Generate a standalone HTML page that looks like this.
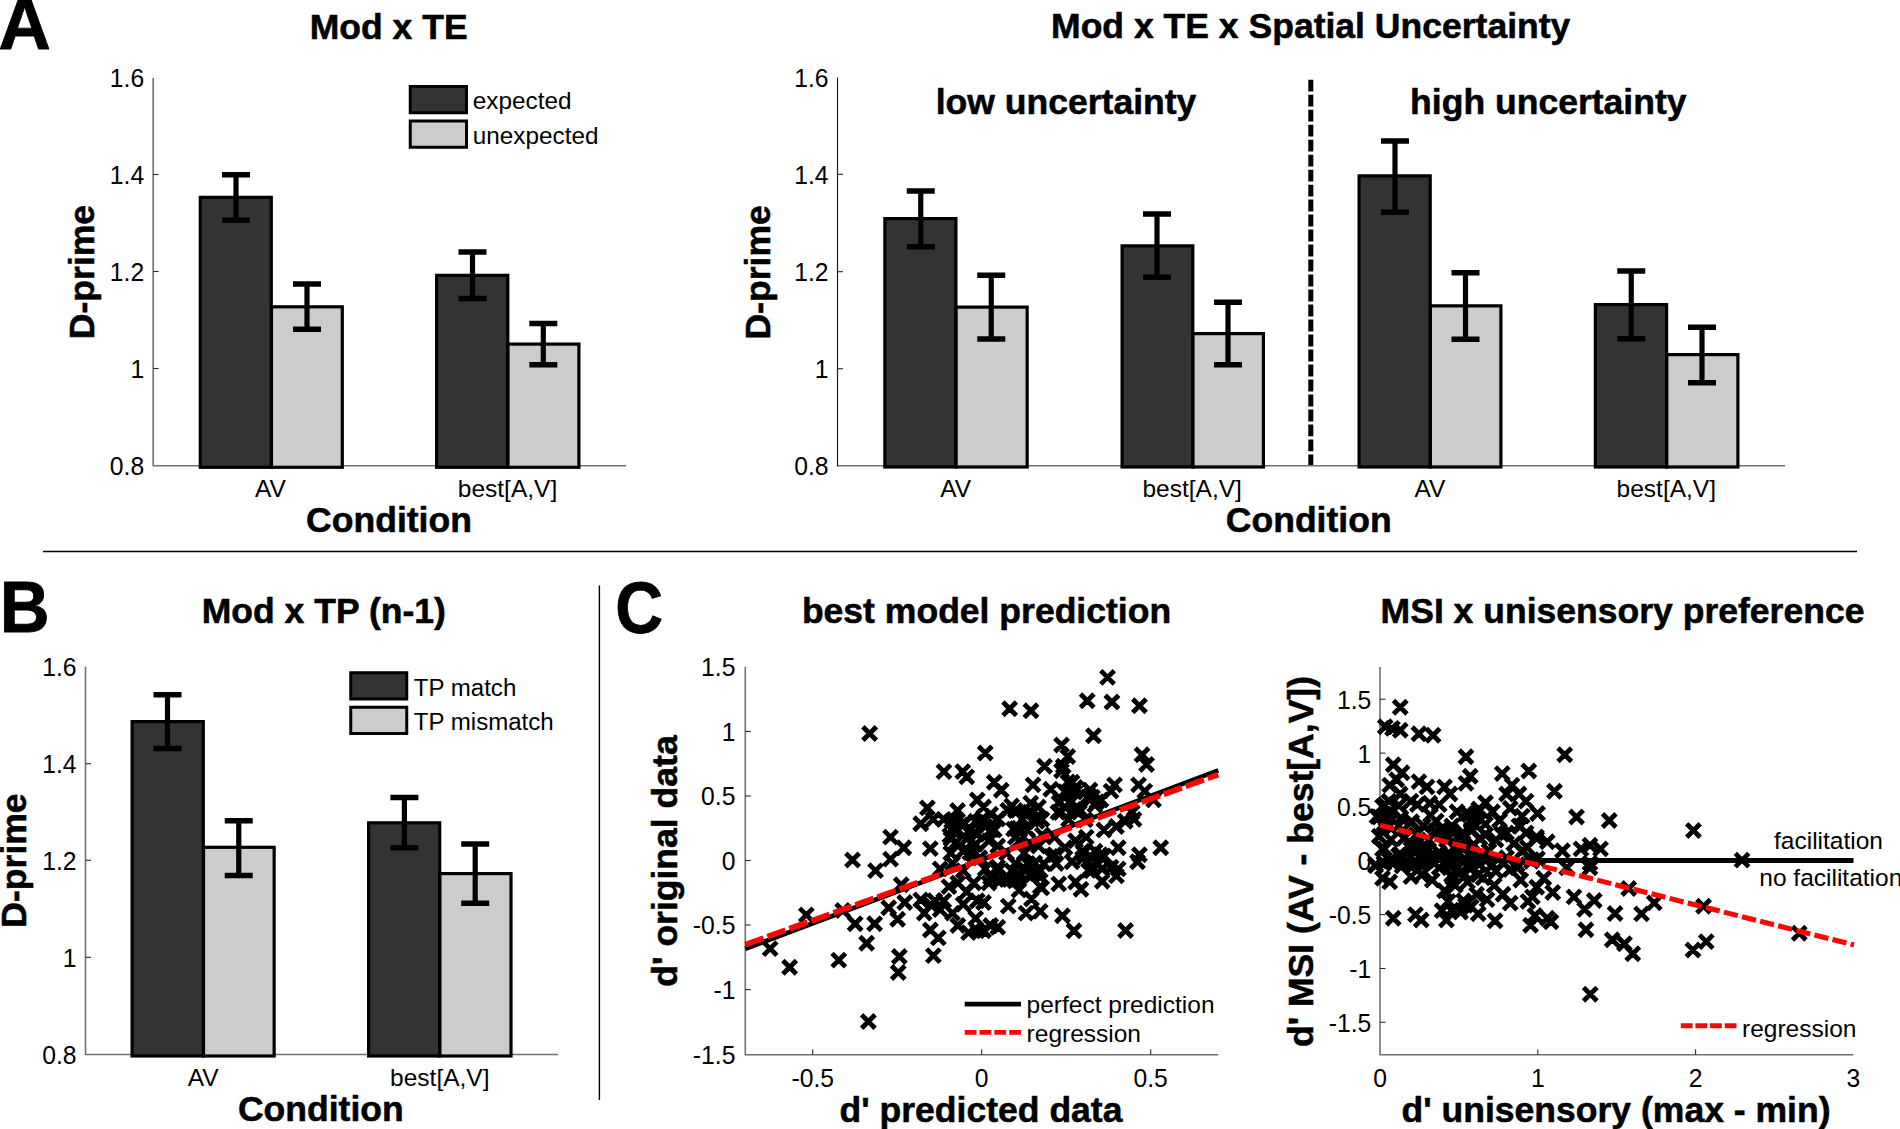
<!DOCTYPE html>
<html><head><meta charset="utf-8"><title>Figure</title>
<style>html,body{margin:0;padding:0;background:#fff;overflow:hidden}svg{display:block}</style></head>
<body><svg width="1900" height="1129" viewBox="0 0 1900 1129" font-family="'Liberation Sans', sans-serif">
<rect width="1900" height="1129" fill="#fff"/>
<text transform="translate(-1.5 48.8) scale(1.05 1.04)" font-size="69" font-weight="bold" stroke="#000" stroke-width="0.8" stroke-linejoin="round" text-anchor="start" fill="#000">A</text>
<text transform="translate(388.7 38.6) scale(1 1.005)" font-size="35.55" font-weight="bold" stroke="#000" stroke-width="0.55" stroke-linejoin="round" text-anchor="middle" fill="#000">Mod x TE</text>
<path d="M153.2 78V465.8H626" stroke="#707070" stroke-width="1.6" fill="none"/>
<text transform="translate(144.2 87.4) scale(1 1.035)" font-size="24.7" text-anchor="end" fill="#000">1.6</text>
<path d="M153.2 174.5h5.5" stroke="#2a2a2a" stroke-width="1.1"/>
<text transform="translate(144.2 183.9) scale(1 1.035)" font-size="24.7" text-anchor="end" fill="#000">1.4</text>
<path d="M153.2 271.5h5.5" stroke="#2a2a2a" stroke-width="1.1"/>
<text transform="translate(144.2 280.9) scale(1 1.035)" font-size="24.7" text-anchor="end" fill="#000">1.2</text>
<path d="M153.2 368.5h5.5" stroke="#2a2a2a" stroke-width="1.1"/>
<text transform="translate(144.2 377.9) scale(1 1.035)" font-size="24.7" text-anchor="end" fill="#000">1</text>
<text transform="translate(144.2 474.9) scale(1 1.035)" font-size="24.7" text-anchor="end" fill="#000">0.8</text>
<rect x="200.29999999999998" y="197.35" width="70.99999999999999" height="269.95" fill="#333333" stroke="#000" stroke-width="3.2"/>
<rect x="271.5" y="306.8" width="70.8" height="160.50000000000003" fill="#cccccc" stroke="#000" stroke-width="3.2"/>
<rect x="436.6" y="275.35" width="71.19999999999997" height="191.95000000000002" fill="#333333" stroke="#000" stroke-width="3.2"/>
<rect x="508.0" y="344.1" width="70.90000000000002" height="123.20000000000002" fill="#cccccc" stroke="#000" stroke-width="3.2"/>
<path d="M236 174.75V220.25" stroke="#000" stroke-width="5.2" fill="none"/>
<path d="M222.0 174.75H250.0M222.0 220.25H250.0" stroke="#000" stroke-width="5.5" fill="none"/>
<path d="M307 283.95V329.25" stroke="#000" stroke-width="5.2" fill="none"/>
<path d="M293.0 283.95H321.0M293.0 329.25H321.0" stroke="#000" stroke-width="5.5" fill="none"/>
<path d="M472.5 252.05V298.45" stroke="#000" stroke-width="5.2" fill="none"/>
<path d="M458.5 252.05H486.5M458.5 298.45H486.5" stroke="#000" stroke-width="5.5" fill="none"/>
<path d="M543.3 323.55V364.75" stroke="#000" stroke-width="5.2" fill="none"/>
<path d="M529.3 323.55H557.3M529.3 364.75H557.3" stroke="#000" stroke-width="5.5" fill="none"/>
<text transform="translate(270.5 496.7) scale(1 1)" font-size="24.5" text-anchor="middle" fill="#000">AV</text>
<text transform="translate(507.5 496.7) scale(1 1)" font-size="24.5" text-anchor="middle" fill="#000">best[A,V]</text>
<text transform="translate(389 532) scale(1 1.005)" font-size="35.55" font-weight="bold" stroke="#000" stroke-width="0.55" stroke-linejoin="round" text-anchor="middle" fill="#000">Condition</text>
<text transform="translate(93.5 272) rotate(-90) scale(1 1.005)" font-size="35.55" font-weight="bold" stroke="#000" stroke-width="0.55" stroke-linejoin="round" text-anchor="middle" fill="#000">D-prime</text>
<rect x="410.25" y="86.5" width="56.25" height="26.25" fill="#333333" stroke="#000" stroke-width="3"/>
<rect x="410.25" y="121.0" width="56.25" height="26.25" fill="#cccccc" stroke="#000" stroke-width="3"/>
<text transform="translate(472.8 109.3) scale(1 1)" font-size="24.3" text-anchor="start" fill="#000">expected</text>
<text transform="translate(472.8 144.3) scale(1 1)" font-size="24.3" text-anchor="start" fill="#000">unexpected</text>
<text transform="translate(1310.7 38.3) scale(1 1.005)" font-size="35.55" font-weight="bold" stroke="#000" stroke-width="0.55" stroke-linejoin="round" text-anchor="middle" fill="#000">Mod x TE x Spatial Uncertainty</text>
<path d="M837.5 465.7H1785" stroke="#707070" stroke-width="1.6" fill="none"/>
<path d="M837.5 77.5V466.59999999999997" stroke="#151515" stroke-width="1.15" fill="none"/>
<text transform="translate(828.5 86.9) scale(1 1.035)" font-size="24.7" text-anchor="end" fill="#000">1.6</text>
<path d="M837.5 174.3h5.5" stroke="#2a2a2a" stroke-width="1.1"/>
<text transform="translate(828.5 183.70000000000002) scale(1 1.035)" font-size="24.7" text-anchor="end" fill="#000">1.4</text>
<path d="M837.5 271.7h5.5" stroke="#2a2a2a" stroke-width="1.1"/>
<text transform="translate(828.5 281.09999999999997) scale(1 1.035)" font-size="24.7" text-anchor="end" fill="#000">1.2</text>
<path d="M837.5 368.7h5.5" stroke="#2a2a2a" stroke-width="1.1"/>
<text transform="translate(828.5 378.09999999999997) scale(1 1.035)" font-size="24.7" text-anchor="end" fill="#000">1</text>
<text transform="translate(828.5 474.9) scale(1 1.035)" font-size="24.7" text-anchor="end" fill="#000">0.8</text>
<rect x="884.85" y="218.6" width="71.05" height="248.4" fill="#333333" stroke="#000" stroke-width="3.2"/>
<rect x="956.1" y="307.1" width="71.05" height="159.9" fill="#cccccc" stroke="#000" stroke-width="3.2"/>
<rect x="1122.1" y="245.85" width="70.70000000000009" height="221.15" fill="#333333" stroke="#000" stroke-width="3.2"/>
<rect x="1193.0" y="333.6" width="70.3999999999999" height="133.4" fill="#cccccc" stroke="#000" stroke-width="3.2"/>
<rect x="1359.1" y="175.85" width="71.09999999999995" height="291.15" fill="#333333" stroke="#000" stroke-width="3.2"/>
<rect x="1430.3999999999999" y="305.85" width="70.50000000000004" height="161.15" fill="#cccccc" stroke="#000" stroke-width="3.2"/>
<rect x="1595.35" y="304.6" width="71.25000000000004" height="162.4" fill="#333333" stroke="#000" stroke-width="3.2"/>
<rect x="1666.8" y="354.6" width="71.09999999999995" height="112.4" fill="#cccccc" stroke="#000" stroke-width="3.2"/>
<path d="M920.75 191.0V246.75" stroke="#000" stroke-width="5.2" fill="none"/>
<path d="M906.75 191.0H934.75M906.75 246.75H934.75" stroke="#000" stroke-width="5.5" fill="none"/>
<path d="M991.25 275.25V339.0" stroke="#000" stroke-width="5.2" fill="none"/>
<path d="M977.25 275.25H1005.25M977.25 339.0H1005.25" stroke="#000" stroke-width="5.5" fill="none"/>
<path d="M1157 214.0V277.25" stroke="#000" stroke-width="5.2" fill="none"/>
<path d="M1143.0 214.0H1171.0M1143.0 277.25H1171.0" stroke="#000" stroke-width="5.5" fill="none"/>
<path d="M1228 302.25V364.75" stroke="#000" stroke-width="5.2" fill="none"/>
<path d="M1214.0 302.25H1242.0M1214.0 364.75H1242.0" stroke="#000" stroke-width="5.5" fill="none"/>
<path d="M1395 140.95V212.25" stroke="#000" stroke-width="5.2" fill="none"/>
<path d="M1381.0 140.95H1409.0M1381.0 212.25H1409.0" stroke="#000" stroke-width="5.5" fill="none"/>
<path d="M1465.5 272.75V339.25" stroke="#000" stroke-width="5.2" fill="none"/>
<path d="M1451.5 272.75H1479.5M1451.5 339.25H1479.5" stroke="#000" stroke-width="5.5" fill="none"/>
<path d="M1631.25 271.0V338.75" stroke="#000" stroke-width="5.2" fill="none"/>
<path d="M1617.25 271.0H1645.25M1617.25 338.75H1645.25" stroke="#000" stroke-width="5.5" fill="none"/>
<path d="M1702 327.25V382.75" stroke="#000" stroke-width="5.2" fill="none"/>
<path d="M1688.0 327.25H1716.0M1688.0 382.75H1716.0" stroke="#000" stroke-width="5.5" fill="none"/>
<path d="M1310.8 79.7V465" stroke="#000" stroke-width="5" stroke-dasharray="11.9 3.09" fill="none"/>
<text transform="translate(1066 113.7) scale(1 1.005)" font-size="35.55" font-weight="bold" stroke="#000" stroke-width="0.55" stroke-linejoin="round" text-anchor="middle" fill="#000">low uncertainty</text>
<text transform="translate(1548.3 113.6) scale(1 1.005)" font-size="35.55" font-weight="bold" stroke="#000" stroke-width="0.55" stroke-linejoin="round" text-anchor="middle" fill="#000">high uncertainty</text>
<text transform="translate(955.7 496.8) scale(1 1)" font-size="24.5" text-anchor="middle" fill="#000">AV</text>
<text transform="translate(1192.2 496.8) scale(1 1)" font-size="24.5" text-anchor="middle" fill="#000">best[A,V]</text>
<text transform="translate(1430 496.8) scale(1 1)" font-size="24.5" text-anchor="middle" fill="#000">AV</text>
<text transform="translate(1666.3 496.8) scale(1 1)" font-size="24.5" text-anchor="middle" fill="#000">best[A,V]</text>
<text transform="translate(1308.7 532.2) scale(1 1.005)" font-size="35.55" font-weight="bold" stroke="#000" stroke-width="0.55" stroke-linejoin="round" text-anchor="middle" fill="#000">Condition</text>
<text transform="translate(770.4 272.3) rotate(-90) scale(1 1.005)" font-size="35.55" font-weight="bold" stroke="#000" stroke-width="0.55" stroke-linejoin="round" text-anchor="middle" fill="#000">D-prime</text>
<path d="M43 551.5H1857" stroke="#000" stroke-width="1.4"/>
<path d="M599.4 585.5V1100" stroke="#000" stroke-width="1.4"/>
<text transform="translate(-0.3 632.2) scale(1 1.04)" font-size="69" font-weight="bold" stroke="#000" stroke-width="0.8" stroke-linejoin="round" text-anchor="start" fill="#000">B</text>
<text transform="translate(323.8 623) scale(1 1.005)" font-size="35.55" font-weight="bold" stroke="#000" stroke-width="0.55" stroke-linejoin="round" text-anchor="middle" fill="#000">Mod x TP (n-1)</text>
<path d="M85.5 666.8V1054.5H558" stroke="#707070" stroke-width="1.6" fill="none"/>
<text transform="translate(76.5 676.1999999999999) scale(1 1.035)" font-size="24.7" text-anchor="end" fill="#000">1.6</text>
<path d="M85.5 763.7h5.5" stroke="#2a2a2a" stroke-width="1.1"/>
<text transform="translate(76.5 773.1) scale(1 1.035)" font-size="24.7" text-anchor="end" fill="#000">1.4</text>
<path d="M85.5 860.3h5.5" stroke="#2a2a2a" stroke-width="1.1"/>
<text transform="translate(76.5 869.6999999999999) scale(1 1.035)" font-size="24.7" text-anchor="end" fill="#000">1.2</text>
<path d="M85.5 957.3h5.5" stroke="#2a2a2a" stroke-width="1.1"/>
<text transform="translate(76.5 966.6999999999999) scale(1 1.035)" font-size="24.7" text-anchor="end" fill="#000">1</text>
<text transform="translate(76.5 1063.7) scale(1 1.035)" font-size="24.7" text-anchor="end" fill="#000">0.8</text>
<rect x="132.1" y="721.6" width="71.2" height="334.4" fill="#333333" stroke="#000" stroke-width="3.2"/>
<rect x="203.5" y="847.3000000000001" width="70.64999999999999" height="208.69999999999996" fill="#cccccc" stroke="#000" stroke-width="3.2"/>
<rect x="368.6" y="822.8000000000001" width="71.10000000000001" height="233.19999999999996" fill="#333333" stroke="#000" stroke-width="3.2"/>
<rect x="439.90000000000003" y="873.6" width="71.10000000000001" height="182.4" fill="#cccccc" stroke="#000" stroke-width="3.2"/>
<path d="M167.5 694.75V748.5" stroke="#000" stroke-width="5.2" fill="none"/>
<path d="M153.5 694.75H181.5M153.5 748.5H181.5" stroke="#000" stroke-width="5.5" fill="none"/>
<path d="M238.75 820.75V875.5" stroke="#000" stroke-width="5.2" fill="none"/>
<path d="M224.75 820.75H252.75M224.75 875.5H252.75" stroke="#000" stroke-width="5.5" fill="none"/>
<path d="M404.4 797.55V847.75" stroke="#000" stroke-width="5.2" fill="none"/>
<path d="M390.4 797.55H418.4M390.4 847.75H418.4" stroke="#000" stroke-width="5.5" fill="none"/>
<path d="M475.2 843.95V903.25" stroke="#000" stroke-width="5.2" fill="none"/>
<path d="M461.2 843.95H489.2M461.2 903.25H489.2" stroke="#000" stroke-width="5.5" fill="none"/>
<rect x="350.75" y="672.75" width="56.0" height="26.25" fill="#333333" stroke="#000" stroke-width="3"/>
<rect x="350.75" y="707.25" width="56.0" height="26.25" fill="#cccccc" stroke="#000" stroke-width="3"/>
<text transform="translate(413.8 695.5) scale(1 1)" font-size="24.05" text-anchor="start" fill="#000">TP match</text>
<text transform="translate(413.8 730.3) scale(1 1)" font-size="24.05" text-anchor="start" fill="#000">TP mismatch</text>
<text transform="translate(203.1 1085.7) scale(1 1)" font-size="24.5" text-anchor="middle" fill="#000">AV</text>
<text transform="translate(439.8 1085.7) scale(1 1)" font-size="24.5" text-anchor="middle" fill="#000">best[A,V]</text>
<text transform="translate(320.8 1120.7) scale(1 1.005)" font-size="35.55" font-weight="bold" stroke="#000" stroke-width="0.55" stroke-linejoin="round" text-anchor="middle" fill="#000">Condition</text>
<text transform="translate(25.5 860.5) rotate(-90) scale(1 1.005)" font-size="35.55" font-weight="bold" stroke="#000" stroke-width="0.55" stroke-linejoin="round" text-anchor="middle" fill="#000">D-prime</text>
<text transform="translate(615.3 632.5) scale(0.96 1.04)" font-size="69" font-weight="bold" stroke="#000" stroke-width="0.8" stroke-linejoin="round" text-anchor="start" fill="#000">C</text>
<text transform="translate(986.5 622.5) scale(1 1.005)" font-size="35.55" font-weight="bold" stroke="#000" stroke-width="0.55" stroke-linejoin="round" text-anchor="middle" fill="#000">best model prediction</text>
<text transform="translate(1622.5 622.5) scale(1 1.005)" font-size="35.55" font-weight="bold" stroke="#000" stroke-width="0.55" stroke-linejoin="round" text-anchor="middle" fill="#000">MSI x unisensory preference</text>
<path d="M745.3 667V1054.7H1218.3" stroke="#707070" stroke-width="1.6" fill="none"/>
<text transform="translate(735.4 676.2) scale(1 1.035)" font-size="24.7" text-anchor="end" fill="#000">1.5</text>
<path d="M745.3 731.4h5.5" stroke="#2a2a2a" stroke-width="1.1"/>
<text transform="translate(735.4 740.8) scale(1 1.035)" font-size="24.7" text-anchor="end" fill="#000">1</text>
<path d="M745.3 796.0h5.5" stroke="#2a2a2a" stroke-width="1.1"/>
<text transform="translate(735.4 805.4) scale(1 1.035)" font-size="24.7" text-anchor="end" fill="#000">0.5</text>
<path d="M745.3 860.5h5.5" stroke="#2a2a2a" stroke-width="1.1"/>
<text transform="translate(735.4 869.9) scale(1 1.035)" font-size="24.7" text-anchor="end" fill="#000">0</text>
<path d="M745.3 925.0h5.5" stroke="#2a2a2a" stroke-width="1.1"/>
<text transform="translate(735.4 934.4) scale(1 1.035)" font-size="24.7" text-anchor="end" fill="#000">-0.5</text>
<path d="M745.3 989.6h5.5" stroke="#2a2a2a" stroke-width="1.1"/>
<text transform="translate(735.4 999.0) scale(1 1.035)" font-size="24.7" text-anchor="end" fill="#000">-1</text>
<text transform="translate(735.4 1063.6) scale(1 1.035)" font-size="24.7" text-anchor="end" fill="#000">-1.5</text>
<path d="M812.7 1054.7v-5.5" stroke="#2a2a2a" stroke-width="1.1"/>
<text transform="translate(812.7 1086.6) scale(1 1.035)" font-size="24.7" text-anchor="middle" fill="#000">-0.5</text>
<path d="M981.7 1054.7v-5.5" stroke="#2a2a2a" stroke-width="1.1"/>
<text transform="translate(981.7 1086.6) scale(1 1.035)" font-size="24.7" text-anchor="middle" fill="#000">0</text>
<path d="M1150.7 1054.7v-5.5" stroke="#2a2a2a" stroke-width="1.1"/>
<text transform="translate(1150.7 1086.6) scale(1 1.035)" font-size="24.7" text-anchor="middle" fill="#000">0.5</text>
<path d="M862.9 726.8l13.5 13.5M862.9 740.2l13.5 -13.5M937.2 764.9l13.5 13.5M937.2 778.4l13.5 -13.5M956.0 764.9l13.5 13.5M956.0 778.4l13.5 -13.5M960.0 770.1l13.5 13.5M960.0 783.6l13.5 -13.5M920.6 801.1l13.5 13.5M920.6 814.6l13.5 -13.5M950.8 803.8l13.5 13.5M950.8 817.2l13.5 -13.5M970.5 793.1l13.5 13.5M970.5 806.6l13.5 -13.5M914.0 817.0l13.5 13.5M914.0 830.5l13.5 -13.5M926.4 812.6l13.5 13.5M926.4 826.1l13.5 -13.5M937.0 812.6l13.5 13.5M937.0 826.1l13.5 -13.5M883.8 830.4l13.5 13.5M883.8 843.9l13.5 -13.5M897.0 841.0l13.5 13.5M897.0 854.5l13.5 -13.5M923.6 841.9l13.5 13.5M923.6 855.4l13.5 -13.5M945.8 823.2l13.5 13.5M945.8 836.8l13.5 -13.5M954.6 818.0l13.5 13.5M954.6 831.5l13.5 -13.5M963.5 823.2l13.5 13.5M963.5 836.8l13.5 -13.5M968.9 814.5l13.5 13.5M968.9 828.0l13.5 -13.5M949.4 835.6l13.5 13.5M949.4 849.1l13.5 -13.5M960.0 832.1l13.5 13.5M960.0 845.6l13.5 -13.5M968.9 837.5l13.5 13.5M968.9 851.0l13.5 -13.5M944.0 846.4l13.5 13.5M944.0 859.9l13.5 -13.5M956.5 844.5l13.5 13.5M956.5 858.0l13.5 -13.5M967.0 848.0l13.5 13.5M967.0 861.5l13.5 -13.5M1100.8 670.6l13.5 13.5M1100.8 684.1l13.5 -13.5M1080.5 694.0l13.5 13.5M1080.5 707.5l13.5 -13.5M1105.2 695.2l13.5 13.5M1105.2 708.8l13.5 -13.5M1132.7 699.0l13.5 13.5M1132.7 712.5l13.5 -13.5M1002.9 702.0l13.5 13.5M1002.9 715.5l13.5 -13.5M1024.2 704.0l13.5 13.5M1024.2 717.5l13.5 -13.5M1086.7 729.0l13.5 13.5M1086.7 742.5l13.5 -13.5M1054.8 738.2l13.5 13.5M1054.8 751.8l13.5 -13.5M978.5 746.2l13.5 13.5M978.5 759.8l13.5 -13.5M1135.3 748.0l13.5 13.5M1135.3 761.5l13.5 -13.5M1139.8 757.8l13.5 13.5M1139.8 771.2l13.5 -13.5M1037.8 759.5l13.5 13.5M1037.8 773.0l13.5 -13.5M1061.0 749.8l13.5 13.5M1061.0 763.2l13.5 -13.5M1056.5 759.5l13.5 13.5M1056.5 773.0l13.5 -13.5M1054.8 764.0l13.5 13.5M1054.8 777.5l13.5 -13.5M1065.3 775.5l13.5 13.5M1065.3 789.0l13.5 -13.5M1068.8 780.8l13.5 13.5M1068.8 794.2l13.5 -13.5M987.5 775.5l13.5 13.5M987.5 789.0l13.5 -13.5M994.5 783.5l13.5 13.5M994.5 797.0l13.5 -13.5M1026.3 778.1l13.5 13.5M1026.3 791.6l13.5 -13.5M1044.0 782.5l13.5 13.5M1044.0 796.0l13.5 -13.5M1107.8 778.1l13.5 13.5M1107.8 791.6l13.5 -13.5M1104.3 784.4l13.5 13.5M1104.3 797.9l13.5 -13.5M1131.8 778.1l13.5 13.5M1131.8 791.6l13.5 -13.5M1138.0 784.4l13.5 13.5M1138.0 797.9l13.5 -13.5M1146.8 793.1l13.5 13.5M1146.8 806.6l13.5 -13.5M1083.0 789.6l13.5 13.5M1083.0 803.1l13.5 -13.5M1090.2 795.0l13.5 13.5M1090.2 808.5l13.5 -13.5M1154.0 841.0l13.5 13.5M1154.0 854.5l13.5 -13.5M1125.5 805.5l13.5 13.5M1125.5 819.0l13.5 -13.5M1118.5 814.5l13.5 13.5M1118.5 828.0l13.5 -13.5M1127.3 812.6l13.5 13.5M1127.3 826.1l13.5 -13.5M1109.7 819.8l13.5 13.5M1109.7 833.2l13.5 -13.5M1111.5 841.0l13.5 13.5M1111.5 854.5l13.5 -13.5M1132.7 848.0l13.5 13.5M1132.7 861.5l13.5 -13.5M1088.3 844.5l13.5 13.5M1088.3 858.0l13.5 -13.5M1079.5 830.4l13.5 13.5M1079.5 843.9l13.5 -13.5M1097.2 823.2l13.5 13.5M1097.2 836.8l13.5 -13.5M976.8 800.2l13.5 13.5M976.8 813.8l13.5 -13.5M983.9 807.4l13.5 13.5M983.9 820.9l13.5 -13.5M978.5 819.8l13.5 13.5M978.5 833.2l13.5 -13.5M987.5 823.2l13.5 13.5M987.5 836.8l13.5 -13.5M1008.6 803.8l13.5 13.5M1008.6 817.2l13.5 -13.5M1015.8 812.6l13.5 13.5M1015.8 826.1l13.5 -13.5M1022.8 805.5l13.5 13.5M1022.8 819.0l13.5 -13.5M1031.7 800.2l13.5 13.5M1031.7 813.8l13.5 -13.5M1012.2 821.5l13.5 13.5M1012.2 835.0l13.5 -13.5M1021.0 823.2l13.5 13.5M1021.0 836.8l13.5 -13.5M1008.6 830.4l13.5 13.5M1008.6 843.9l13.5 -13.5M1035.2 812.6l13.5 13.5M1035.2 826.1l13.5 -13.5M1051.2 805.5l13.5 13.5M1051.2 819.0l13.5 -13.5M1058.2 800.2l13.5 13.5M1058.2 813.8l13.5 -13.5M1061.8 812.6l13.5 13.5M1061.8 826.1l13.5 -13.5M1072.5 805.5l13.5 13.5M1072.5 819.0l13.5 -13.5M991.0 839.2l13.5 13.5M991.0 852.8l13.5 -13.5M982.1 834.0l13.5 13.5M982.1 847.5l13.5 -13.5M999.9 846.4l13.5 13.5M999.9 859.9l13.5 -13.5M1031.7 839.2l13.5 13.5M1031.7 852.8l13.5 -13.5M1047.7 830.4l13.5 13.5M1047.7 843.9l13.5 -13.5M1058.2 841.0l13.5 13.5M1058.2 854.5l13.5 -13.5M1068.8 834.0l13.5 13.5M1068.8 847.5l13.5 -13.5M1076.0 844.5l13.5 13.5M1076.0 858.0l13.5 -13.5M1093.7 848.0l13.5 13.5M1093.7 861.5l13.5 -13.5M1047.7 848.0l13.5 13.5M1047.7 861.5l13.5 -13.5M1017.5 846.4l13.5 13.5M1017.5 859.9l13.5 -13.5M845.8 853.2l13.5 13.5M845.8 866.8l13.5 -13.5M868.8 863.9l13.5 13.5M868.8 877.4l13.5 -13.5M883.8 852.4l13.5 13.5M883.8 865.9l13.5 -13.5M799.6 908.1l13.5 13.5M799.6 921.6l13.5 -13.5M894.5 878.0l13.5 13.5M894.5 891.5l13.5 -13.5M836.0 903.8l13.5 13.5M836.0 917.2l13.5 -13.5M848.4 917.0l13.5 13.5M848.4 930.5l13.5 -13.5M867.9 917.0l13.5 13.5M867.9 930.5l13.5 -13.5M890.9 912.5l13.5 13.5M890.9 926.0l13.5 -13.5M882.0 901.0l13.5 13.5M882.0 914.5l13.5 -13.5M898.0 895.8l13.5 13.5M898.0 909.2l13.5 -13.5M763.4 941.9l13.5 13.5M763.4 955.4l13.5 -13.5M782.9 960.5l13.5 13.5M782.9 974.0l13.5 -13.5M832.0 953.4l13.5 13.5M832.0 966.9l13.5 -13.5M859.9 936.5l13.5 13.5M859.9 950.0l13.5 -13.5M892.6 949.8l13.5 13.5M892.6 963.2l13.5 -13.5M891.5 965.8l13.5 13.5M891.5 979.2l13.5 -13.5M861.6 1014.8l13.5 13.5M861.6 1028.2l13.5 -13.5M926.6 948.9l13.5 13.5M926.6 962.4l13.5 -13.5M923.6 923.2l13.5 13.5M923.6 936.8l13.5 -13.5M931.6 931.1l13.5 13.5M931.6 944.6l13.5 -13.5M914.0 893.1l13.5 13.5M914.0 906.6l13.5 -13.5M917.5 906.4l13.5 13.5M917.5 919.9l13.5 -13.5M924.5 898.5l13.5 13.5M924.5 912.0l13.5 -13.5M933.4 902.9l13.5 13.5M933.4 916.4l13.5 -13.5M928.0 894.0l13.5 13.5M928.0 907.5l13.5 -13.5M937.0 894.0l13.5 13.5M937.0 907.5l13.5 -13.5M933.4 862.1l13.5 13.5M933.4 875.6l13.5 -13.5M942.2 879.9l13.5 13.5M942.2 893.4l13.5 -13.5M951.1 876.2l13.5 13.5M951.1 889.8l13.5 -13.5M945.8 856.8l13.5 13.5M945.8 870.2l13.5 -13.5M956.5 863.9l13.5 13.5M956.5 877.4l13.5 -13.5M960.0 885.1l13.5 13.5M960.0 898.6l13.5 -13.5M967.0 876.2l13.5 13.5M967.0 889.8l13.5 -13.5M970.5 894.0l13.5 13.5M970.5 907.5l13.5 -13.5M951.1 918.8l13.5 13.5M951.1 932.2l13.5 -13.5M961.8 925.9l13.5 13.5M961.8 939.4l13.5 -13.5M970.5 924.0l13.5 13.5M970.5 937.5l13.5 -13.5M956.5 897.5l13.5 13.5M956.5 911.0l13.5 -13.5M945.8 906.4l13.5 13.5M945.8 919.9l13.5 -13.5M968.9 911.6l13.5 13.5M968.9 925.1l13.5 -13.5M1118.8 923.8l13.5 13.5M1118.8 937.2l13.5 -13.5M1067.2 924.0l13.5 13.5M1067.2 937.5l13.5 -13.5M1055.7 909.0l13.5 13.5M1055.7 922.5l13.5 -13.5M1074.2 882.5l13.5 13.5M1074.2 896.0l13.5 -13.5M1068.8 875.4l13.5 13.5M1068.8 888.9l13.5 -13.5M1052.0 877.1l13.5 13.5M1052.0 890.6l13.5 -13.5M1095.5 874.5l13.5 13.5M1095.5 888.0l13.5 -13.5M1109.7 869.1l13.5 13.5M1109.7 882.6l13.5 -13.5M1033.5 904.6l13.5 13.5M1033.5 918.1l13.5 -13.5M1019.3 906.4l13.5 13.5M1019.3 919.9l13.5 -13.5M1001.5 899.4l13.5 13.5M1001.5 912.9l13.5 -13.5M1024.7 892.2l13.5 13.5M1024.7 905.8l13.5 -13.5M976.8 895.8l13.5 13.5M976.8 909.2l13.5 -13.5M983.9 918.8l13.5 13.5M983.9 932.2l13.5 -13.5M991.0 920.5l13.5 13.5M991.0 934.0l13.5 -13.5M976.8 924.0l13.5 13.5M976.8 937.5l13.5 -13.5M1033.5 879.9l13.5 13.5M1033.5 893.4l13.5 -13.5M1012.2 883.4l13.5 13.5M1012.2 896.9l13.5 -13.5M982.1 876.2l13.5 13.5M982.1 889.8l13.5 -13.5M992.8 872.8l13.5 13.5M992.8 886.2l13.5 -13.5M1130.8 855.0l13.5 13.5M1130.8 868.5l13.5 -13.5M1065.3 855.0l13.5 13.5M1065.3 868.5l13.5 -13.5M1049.5 856.8l13.5 13.5M1049.5 870.2l13.5 -13.5M978.5 862.1l13.5 13.5M978.5 875.6l13.5 -13.5M991.0 860.4l13.5 13.5M991.0 873.9l13.5 -13.5M1005.1 863.9l13.5 13.5M1005.1 877.4l13.5 -13.5M1014.0 869.1l13.5 13.5M1014.0 882.6l13.5 -13.5M1024.7 865.6l13.5 13.5M1024.7 879.1l13.5 -13.5M1033.5 863.9l13.5 13.5M1033.5 877.4l13.5 -13.5M1008.6 856.8l13.5 13.5M1008.6 870.2l13.5 -13.5M1021.0 856.8l13.5 13.5M1021.0 870.2l13.5 -13.5M999.9 872.8l13.5 13.5M999.9 886.2l13.5 -13.5M1086.7 860.4l13.5 13.5M1086.7 873.9l13.5 -13.5M1095.5 862.1l13.5 13.5M1095.5 875.6l13.5 -13.5M1104.3 860.4l13.5 13.5M1104.3 873.9l13.5 -13.5M1111.5 862.1l13.5 13.5M1111.5 875.6l13.5 -13.5M1090.2 856.8l13.5 13.5M1090.2 870.2l13.5 -13.5M957.8 816.8l13.5 13.5M957.8 830.2l13.5 -13.5M974.5 813.4l13.5 13.5M974.5 826.9l13.5 -13.5M968.5 826.0l13.5 13.5M968.5 839.5l13.5 -13.5M944.2 832.0l13.5 13.5M944.2 845.5l13.5 -13.5M943.1 828.9l13.5 13.5M943.1 842.4l13.5 -13.5M944.9 814.1l13.5 13.5M944.9 827.6l13.5 -13.5M963.0 845.9l13.5 13.5M963.0 859.4l13.5 -13.5M947.5 819.9l13.5 13.5M947.5 833.4l13.5 -13.5M973.2 851.0l13.5 13.5M973.2 864.5l13.5 -13.5M970.6 827.4l13.5 13.5M970.6 840.9l13.5 -13.5M991.0 812.2l13.5 13.5M991.0 825.8l13.5 -13.5M985.0 822.8l13.5 13.5M985.0 836.2l13.5 -13.5M1005.0 799.1l13.5 13.5M1005.0 812.6l13.5 -13.5M1012.8 834.0l13.5 13.5M1012.8 847.5l13.5 -13.5M1006.8 822.4l13.5 13.5M1006.8 835.9l13.5 -13.5M1028.2 811.9l13.5 13.5M1028.2 825.4l13.5 -13.5M1024.0 796.4l13.5 13.5M1024.0 809.9l13.5 -13.5M1001.0 803.5l13.5 13.5M1001.0 817.0l13.5 -13.5M1030.2 814.6l13.5 13.5M1030.2 828.1l13.5 -13.5M1013.0 822.5l13.5 13.5M1013.0 836.0l13.5 -13.5M1019.5 808.2l13.5 13.5M1019.5 821.8l13.5 -13.5M1035.5 828.1l13.5 13.5M1035.5 841.6l13.5 -13.5M1009.8 822.0l13.5 13.5M1009.8 835.5l13.5 -13.5M1023.0 837.0l13.5 13.5M1023.0 850.5l13.5 -13.5M1028.0 856.1l13.5 13.5M1028.0 869.6l13.5 -13.5M1044.0 849.8l13.5 13.5M1044.0 863.2l13.5 -13.5M1008.0 874.0l13.5 13.5M1008.0 887.5l13.5 -13.5M991.0 863.9l13.5 13.5M991.0 877.4l13.5 -13.5M983.8 870.6l13.5 13.5M983.8 884.1l13.5 -13.5M1030.2 867.0l13.5 13.5M1030.2 880.5l13.5 -13.5M1037.2 857.1l13.5 13.5M1037.2 870.6l13.5 -13.5M1025.8 867.9l13.5 13.5M1025.8 881.4l13.5 -13.5M1018.3 862.5l13.5 13.5M1018.3 876.0l13.5 -13.5M1035.0 881.1l13.5 13.5M1035.0 894.6l13.5 -13.5M1011.5 870.5l13.5 13.5M1011.5 884.0l13.5 -13.5M985.1 872.0l13.5 13.5M985.1 885.5l13.5 -13.5M1078.5 813.0l13.5 13.5M1078.5 826.5l13.5 -13.5M1085.8 790.4l13.5 13.5M1085.8 803.9l13.5 -13.5M1067.5 802.6l13.5 13.5M1067.5 816.1l13.5 -13.5M1052.2 796.0l13.5 13.5M1052.2 809.5l13.5 -13.5M1058.3 785.0l13.5 13.5M1058.3 798.5l13.5 -13.5M1053.8 805.9l13.5 13.5M1053.8 819.4l13.5 -13.5M1076.8 846.1l13.5 13.5M1076.8 859.6l13.5 -13.5M1081.7 863.6l13.5 13.5M1081.7 877.1l13.5 -13.5M1075.8 851.9l13.5 13.5M1075.8 865.4l13.5 -13.5M1084.7 864.0l13.5 13.5M1084.7 877.5l13.5 -13.5M1061.2 775.2l13.5 13.5M1061.2 788.8l13.5 -13.5M1068.2 785.2l13.5 13.5M1068.2 798.8l13.5 -13.5M1063.2 796.2l13.5 13.5M1063.2 809.8l13.5 -13.5M1073.2 803.2l13.5 13.5M1073.2 816.8l13.5 -13.5M1081.2 790.2l13.5 13.5M1081.2 803.8l13.5 -13.5M1088.2 798.2l13.5 13.5M1088.2 811.8l13.5 -13.5M1083.2 783.2l13.5 13.5M1083.2 796.8l13.5 -13.5M1094.2 793.2l13.5 13.5M1094.2 806.8l13.5 -13.5M1085.2 851.2l13.5 13.5M1085.2 864.8l13.5 -13.5M1091.2 857.2l13.5 13.5M1091.2 870.8l13.5 -13.5M1097.2 849.2l13.5 13.5M1097.2 862.8l13.5 -13.5" stroke="#000" stroke-width="4.8" fill="none"/>
<path d="M745.3 948.8L1218.3 770.4" stroke="#000" stroke-width="4.7"/>
<path d="M745.3 944.6L1218.3 774.6" stroke="#fb0505" stroke-width="5.7" stroke-dasharray="19.3 4.1"/>
<path d="M964.7 1004.2H1021" stroke="#000" stroke-width="4.7"/>
<path d="M964.7 1032.4H1021" stroke="#fb0505" stroke-width="4.9" stroke-dasharray="11.8 3.03"/>
<text transform="translate(1026.6 1012.8) scale(1 1)" font-size="24.5" text-anchor="start" fill="#000">perfect prediction</text>
<text transform="translate(1026.6 1042.3) scale(1 1)" font-size="24.5" text-anchor="start" fill="#000">regression</text>
<text transform="translate(981 1121.7) scale(1 1.005)" font-size="35.55" font-weight="bold" stroke="#000" stroke-width="0.55" stroke-linejoin="round" text-anchor="middle" fill="#000">d' predicted data</text>
<text transform="translate(677 861) rotate(-90) scale(1 1.005)" font-size="35.55" font-weight="bold" stroke="#000" stroke-width="0.55" stroke-linejoin="round" text-anchor="middle" fill="#000">d' original data</text>
<path d="M1380 667V1054.7H1853.5" stroke="#707070" stroke-width="1.6" fill="none"/>
<path d="M1380 699.2h5.5" stroke="#2a2a2a" stroke-width="1.1"/>
<text transform="translate(1371.3 708.6) scale(1 1.035)" font-size="24.7" text-anchor="end" fill="#000">1.5</text>
<path d="M1380 753.1h5.5" stroke="#2a2a2a" stroke-width="1.1"/>
<text transform="translate(1371.3 762.5) scale(1 1.035)" font-size="24.7" text-anchor="end" fill="#000">1</text>
<path d="M1380 806.9h5.5" stroke="#2a2a2a" stroke-width="1.1"/>
<text transform="translate(1371.3 816.3) scale(1 1.035)" font-size="24.7" text-anchor="end" fill="#000">0.5</text>
<path d="M1380 860.8h5.5" stroke="#2a2a2a" stroke-width="1.1"/>
<text transform="translate(1371.3 870.2) scale(1 1.035)" font-size="24.7" text-anchor="end" fill="#000">0</text>
<path d="M1380 914.6h5.5" stroke="#2a2a2a" stroke-width="1.1"/>
<text transform="translate(1371.3 924.0) scale(1 1.035)" font-size="24.7" text-anchor="end" fill="#000">-0.5</text>
<path d="M1380 968.5h5.5" stroke="#2a2a2a" stroke-width="1.1"/>
<text transform="translate(1371.3 977.9) scale(1 1.035)" font-size="24.7" text-anchor="end" fill="#000">-1</text>
<path d="M1380 1022.3h5.5" stroke="#2a2a2a" stroke-width="1.1"/>
<text transform="translate(1371.3 1031.8) scale(1 1.035)" font-size="24.7" text-anchor="end" fill="#000">-1.5</text>
<text transform="translate(1380.0 1086.6) scale(1 1.035)" font-size="24.7" text-anchor="middle" fill="#000">0</text>
<path d="M1537.8 1054.7v-5.5" stroke="#2a2a2a" stroke-width="1.1"/>
<text transform="translate(1537.8 1086.6) scale(1 1.035)" font-size="24.7" text-anchor="middle" fill="#000">1</text>
<path d="M1695.6 1054.7v-5.5" stroke="#2a2a2a" stroke-width="1.1"/>
<text transform="translate(1695.6 1086.6) scale(1 1.035)" font-size="24.7" text-anchor="middle" fill="#000">2</text>
<text transform="translate(1853.4 1086.6) scale(1 1.035)" font-size="24.7" text-anchor="middle" fill="#000">3</text>
<path d="M1380 860.6H1853.5" stroke="#000" stroke-width="5"/>
<path d="M1393.5 700.5l13.5 13.5M1393.5 714.0l13.5 -13.5M1378.5 720.0l13.5 13.5M1378.5 733.5l13.5 -13.5M1385.7 721.6l13.5 13.5M1385.7 735.1l13.5 -13.5M1393.5 723.5l13.5 13.5M1393.5 737.0l13.5 -13.5M1412.2 727.0l13.5 13.5M1412.2 740.5l13.5 -13.5M1426.3 728.5l13.5 13.5M1426.3 742.0l13.5 -13.5M1459.2 750.0l13.5 13.5M1459.2 763.5l13.5 -13.5M1558.0 748.0l13.5 13.5M1558.0 761.5l13.5 -13.5M1386.5 758.0l13.5 13.5M1386.5 771.5l13.5 -13.5M1395.3 766.0l13.5 13.5M1395.3 779.5l13.5 -13.5M1390.0 773.0l13.5 13.5M1390.0 786.5l13.5 -13.5M1383.0 778.4l13.5 13.5M1383.0 791.9l13.5 -13.5M1412.2 774.9l13.5 13.5M1412.2 788.4l13.5 -13.5M1420.2 780.1l13.5 13.5M1420.2 793.6l13.5 -13.5M1437.8 780.1l13.5 13.5M1437.8 793.6l13.5 -13.5M1443.2 787.2l13.5 13.5M1443.2 800.8l13.5 -13.5M1463.5 769.5l13.5 13.5M1463.5 783.0l13.5 -13.5M1459.2 776.6l13.5 13.5M1459.2 790.1l13.5 -13.5M1495.5 766.9l13.5 13.5M1495.5 780.4l13.5 -13.5M1522.0 764.2l13.5 13.5M1522.0 777.8l13.5 -13.5M1505.2 778.4l13.5 13.5M1505.2 791.9l13.5 -13.5M1499.8 787.2l13.5 13.5M1499.8 800.8l13.5 -13.5M1512.2 787.2l13.5 13.5M1512.2 800.8l13.5 -13.5M1519.3 794.4l13.5 13.5M1519.3 807.9l13.5 -13.5M1547.7 784.5l13.5 13.5M1547.7 798.0l13.5 -13.5M1530.8 806.8l13.5 13.5M1530.8 820.2l13.5 -13.5M1569.8 810.2l13.5 13.5M1569.8 823.8l13.5 -13.5M1602.5 813.8l13.5 13.5M1602.5 827.2l13.5 -13.5M1478.7 796.0l13.5 13.5M1478.7 809.5l13.5 -13.5M1503.5 801.5l13.5 13.5M1503.5 815.0l13.5 -13.5M1393.5 787.2l13.5 13.5M1393.5 800.8l13.5 -13.5M1404.2 794.4l13.5 13.5M1404.2 807.9l13.5 -13.5M1375.8 799.6l13.5 13.5M1375.8 813.1l13.5 -13.5M1383.0 805.0l13.5 13.5M1383.0 818.5l13.5 -13.5M1372.3 810.2l13.5 13.5M1372.3 823.8l13.5 -13.5M1432.5 797.9l13.5 13.5M1432.5 811.4l13.5 -13.5M1423.7 808.5l13.5 13.5M1423.7 822.0l13.5 -13.5M1450.2 805.0l13.5 13.5M1450.2 818.5l13.5 -13.5M1459.2 806.8l13.5 13.5M1459.2 820.2l13.5 -13.5M1471.5 805.0l13.5 13.5M1471.5 818.5l13.5 -13.5M1485.7 805.0l13.5 13.5M1485.7 818.5l13.5 -13.5M1492.8 813.8l13.5 13.5M1492.8 827.2l13.5 -13.5M1478.7 817.4l13.5 13.5M1478.7 830.9l13.5 -13.5M1512.2 819.1l13.5 13.5M1512.2 832.6l13.5 -13.5M1519.3 826.1l13.5 13.5M1519.3 839.6l13.5 -13.5M1530.0 831.5l13.5 13.5M1530.0 845.0l13.5 -13.5M1540.5 835.0l13.5 13.5M1540.5 848.5l13.5 -13.5M1555.7 844.0l13.5 13.5M1555.7 857.5l13.5 -13.5M1574.2 842.1l13.5 13.5M1574.2 855.6l13.5 -13.5M1583.2 838.5l13.5 13.5M1583.2 852.0l13.5 -13.5M1593.8 842.1l13.5 13.5M1593.8 855.6l13.5 -13.5M1583.2 856.4l13.5 13.5M1583.2 869.9l13.5 -13.5M1377.7 842.1l13.5 13.5M1377.7 855.6l13.5 -13.5M1368.8 858.0l13.5 13.5M1368.8 871.5l13.5 -13.5M1391.8 819.1l13.5 13.5M1391.8 832.6l13.5 -13.5M1404.2 815.5l13.5 13.5M1404.2 829.0l13.5 -13.5M1416.7 819.1l13.5 13.5M1416.7 832.6l13.5 -13.5M1397.2 831.5l13.5 13.5M1397.2 845.0l13.5 -13.5M1409.5 828.0l13.5 13.5M1409.5 841.5l13.5 -13.5M1422.0 833.2l13.5 13.5M1422.0 846.8l13.5 -13.5M1434.3 822.6l13.5 13.5M1434.3 836.1l13.5 -13.5M1445.0 819.1l13.5 13.5M1445.0 832.6l13.5 -13.5M1439.7 833.2l13.5 13.5M1439.7 846.8l13.5 -13.5M1453.8 829.8l13.5 13.5M1453.8 843.2l13.5 -13.5M1464.5 822.6l13.5 13.5M1464.5 836.1l13.5 -13.5M1473.2 831.5l13.5 13.5M1473.2 845.0l13.5 -13.5M1464.5 840.4l13.5 13.5M1464.5 853.9l13.5 -13.5M1450.2 844.0l13.5 13.5M1450.2 857.5l13.5 -13.5M1432.5 845.6l13.5 13.5M1432.5 859.1l13.5 -13.5M1418.3 845.6l13.5 13.5M1418.3 859.1l13.5 -13.5M1404.2 842.1l13.5 13.5M1404.2 855.6l13.5 -13.5M1393.5 847.5l13.5 13.5M1393.5 861.0l13.5 -13.5M1386.5 856.4l13.5 13.5M1386.5 869.9l13.5 -13.5M1400.7 856.4l13.5 13.5M1400.7 869.9l13.5 -13.5M1414.8 858.0l13.5 13.5M1414.8 871.5l13.5 -13.5M1427.2 856.4l13.5 13.5M1427.2 869.9l13.5 -13.5M1441.5 858.0l13.5 13.5M1441.5 871.5l13.5 -13.5M1457.3 854.5l13.5 13.5M1457.3 868.0l13.5 -13.5M1471.5 851.0l13.5 13.5M1471.5 864.5l13.5 -13.5M1482.2 844.0l13.5 13.5M1482.2 857.5l13.5 -13.5M1489.2 833.2l13.5 13.5M1489.2 846.8l13.5 -13.5M1499.8 826.1l13.5 13.5M1499.8 839.6l13.5 -13.5M1507.0 836.9l13.5 13.5M1507.0 850.4l13.5 -13.5M1515.8 844.0l13.5 13.5M1515.8 857.5l13.5 -13.5M1499.8 851.0l13.5 13.5M1499.8 864.5l13.5 -13.5M1485.7 858.0l13.5 13.5M1485.7 871.5l13.5 -13.5M1524.7 854.5l13.5 13.5M1524.7 868.0l13.5 -13.5M1510.5 858.0l13.5 13.5M1510.5 871.5l13.5 -13.5M1583.5 987.5l13.5 13.5M1583.5 1001.0l13.5 -13.5M1386.5 911.5l13.5 13.5M1386.5 925.0l13.5 -13.5M1408.7 907.9l13.5 13.5M1408.7 921.4l13.5 -13.5M1414.5 913.2l13.5 13.5M1414.5 926.8l13.5 -13.5M1439.7 913.2l13.5 13.5M1439.7 926.8l13.5 -13.5M1488.3 914.0l13.5 13.5M1488.3 927.5l13.5 -13.5M1523.8 918.5l13.5 13.5M1523.8 932.0l13.5 -13.5M1544.2 915.0l13.5 13.5M1544.2 928.5l13.5 -13.5M1579.2 923.0l13.5 13.5M1579.2 936.5l13.5 -13.5M1567.2 890.1l13.5 13.5M1567.2 903.6l13.5 -13.5M1577.8 902.5l13.5 13.5M1577.8 916.0l13.5 -13.5M1587.5 893.8l13.5 13.5M1587.5 907.2l13.5 -13.5M1546.0 885.8l13.5 13.5M1546.0 899.2l13.5 -13.5M1521.2 894.6l13.5 13.5M1521.2 908.1l13.5 -13.5M1528.2 908.8l13.5 13.5M1528.2 922.2l13.5 -13.5M1540.5 911.5l13.5 13.5M1540.5 925.0l13.5 -13.5M1530.0 880.5l13.5 13.5M1530.0 894.0l13.5 -13.5M1537.0 871.5l13.5 13.5M1537.0 885.0l13.5 -13.5M1514.0 873.4l13.5 13.5M1514.0 886.9l13.5 -13.5M1583.2 861.0l13.5 13.5M1583.2 874.5l13.5 -13.5M1560.0 861.0l13.5 13.5M1560.0 874.5l13.5 -13.5M1503.5 896.4l13.5 13.5M1503.5 909.9l13.5 -13.5M1496.3 887.5l13.5 13.5M1496.3 901.0l13.5 -13.5M1487.5 878.6l13.5 13.5M1487.5 892.1l13.5 -13.5M1480.3 892.9l13.5 13.5M1480.3 906.4l13.5 -13.5M1469.8 887.5l13.5 13.5M1469.8 901.0l13.5 -13.5M1464.5 900.0l13.5 13.5M1464.5 913.5l13.5 -13.5M1471.5 907.0l13.5 13.5M1471.5 920.5l13.5 -13.5M1453.8 905.2l13.5 13.5M1453.8 918.8l13.5 -13.5M1445.0 903.5l13.5 13.5M1445.0 917.0l13.5 -13.5M1441.5 894.6l13.5 13.5M1441.5 908.1l13.5 -13.5M1437.8 884.0l13.5 13.5M1437.8 897.5l13.5 -13.5M1448.5 878.6l13.5 13.5M1448.5 892.1l13.5 -13.5M1460.8 875.1l13.5 13.5M1460.8 888.6l13.5 -13.5M1471.5 868.0l13.5 13.5M1471.5 881.5l13.5 -13.5M1489.2 864.5l13.5 13.5M1489.2 878.0l13.5 -13.5M1503.5 862.8l13.5 13.5M1503.5 876.2l13.5 -13.5M1425.5 873.4l13.5 13.5M1425.5 886.9l13.5 -13.5M1414.8 868.0l13.5 13.5M1414.8 881.5l13.5 -13.5M1404.2 869.9l13.5 13.5M1404.2 883.4l13.5 -13.5M1383.0 875.1l13.5 13.5M1383.0 888.6l13.5 -13.5M1375.8 871.5l13.5 13.5M1375.8 885.0l13.5 -13.5M1368.8 859.1l13.5 13.5M1368.8 872.6l13.5 -13.5M1383.0 853.9l13.5 13.5M1383.0 867.4l13.5 -13.5M1395.3 859.1l13.5 13.5M1395.3 872.6l13.5 -13.5M1407.8 857.5l13.5 13.5M1407.8 871.0l13.5 -13.5M1420.2 853.9l13.5 13.5M1420.2 867.4l13.5 -13.5M1432.5 861.0l13.5 13.5M1432.5 874.5l13.5 -13.5M1445.0 857.5l13.5 13.5M1445.0 871.0l13.5 -13.5M1457.3 853.9l13.5 13.5M1457.3 867.4l13.5 -13.5M1391.8 848.5l13.5 13.5M1391.8 862.0l13.5 -13.5M1418.3 846.8l13.5 13.5M1418.3 860.2l13.5 -13.5M1439.7 848.5l13.5 13.5M1439.7 862.0l13.5 -13.5M1464.5 861.0l13.5 13.5M1464.5 874.5l13.5 -13.5M1478.7 853.9l13.5 13.5M1478.7 867.4l13.5 -13.5M1686.7 823.8l13.5 13.5M1686.7 837.2l13.5 -13.5M1735.3 853.4l13.5 13.5M1735.3 866.9l13.5 -13.5M1622.0 881.8l13.5 13.5M1622.0 895.2l13.5 -13.5M1647.5 896.1l13.5 13.5M1647.5 909.6l13.5 -13.5M1634.8 907.1l13.5 13.5M1634.8 920.6l13.5 -13.5M1608.3 906.8l13.5 13.5M1608.3 920.2l13.5 -13.5M1696.8 899.5l13.5 13.5M1696.8 913.0l13.5 -13.5M1792.5 926.5l13.5 13.5M1792.5 940.0l13.5 -13.5M1699.5 934.9l13.5 13.5M1699.5 948.4l13.5 -13.5M1686.2 943.2l13.5 13.5M1686.2 956.8l13.5 -13.5M1605.5 933.0l13.5 13.5M1605.5 946.5l13.5 -13.5M1617.7 937.0l13.5 13.5M1617.7 950.5l13.5 -13.5M1626.0 947.0l13.5 13.5M1626.0 960.5l13.5 -13.5M1404.7 837.0l13.5 13.5M1404.7 850.5l13.5 -13.5M1440.5 829.5l13.5 13.5M1440.5 843.0l13.5 -13.5M1408.8 839.0l13.5 13.5M1408.8 852.5l13.5 -13.5M1384.2 833.1l13.5 13.5M1384.2 846.6l13.5 -13.5M1418.2 855.1l13.5 13.5M1418.2 868.6l13.5 -13.5M1377.5 817.0l13.5 13.5M1377.5 830.5l13.5 -13.5M1377.2 856.5l13.5 13.5M1377.2 870.0l13.5 -13.5M1423.0 796.5l13.5 13.5M1423.0 810.0l13.5 -13.5M1444.8 868.5l13.5 13.5M1444.8 882.0l13.5 -13.5M1420.0 841.2l13.5 13.5M1420.0 854.8l13.5 -13.5M1382.2 794.5l13.5 13.5M1382.2 808.0l13.5 -13.5M1410.5 797.9l13.5 13.5M1410.5 811.4l13.5 -13.5M1384.8 812.1l13.5 13.5M1384.8 825.6l13.5 -13.5M1372.5 829.5l13.5 13.5M1372.5 843.0l13.5 -13.5M1403.8 859.0l13.5 13.5M1403.8 872.5l13.5 -13.5M1409.8 843.1l13.5 13.5M1409.8 856.6l13.5 -13.5M1408.2 845.0l13.5 13.5M1408.2 858.5l13.5 -13.5M1405.0 815.0l13.5 13.5M1405.0 828.5l13.5 -13.5M1446.0 871.0l13.5 13.5M1446.0 884.5l13.5 -13.5M1434.2 848.5l13.5 13.5M1434.2 862.0l13.5 -13.5M1394.2 811.1l13.5 13.5M1394.2 824.6l13.5 -13.5M1392.2 798.8l13.5 13.5M1392.2 812.2l13.5 -13.5M1428.5 824.5l13.5 13.5M1428.5 838.0l13.5 -13.5M1434.5 823.4l13.5 13.5M1434.5 836.9l13.5 -13.5M1443.0 859.4l13.5 13.5M1443.0 872.9l13.5 -13.5M1370.2 809.6l13.5 13.5M1370.2 823.1l13.5 -13.5M1439.5 830.0l13.5 13.5M1439.5 843.5l13.5 -13.5M1444.8 824.2l13.5 13.5M1444.8 837.8l13.5 -13.5M1375.8 842.4l13.5 13.5M1375.8 855.9l13.5 -13.5M1429.5 814.2l13.5 13.5M1429.5 827.8l13.5 -13.5M1376.8 819.1l13.5 13.5M1376.8 832.6l13.5 -13.5M1443.5 852.4l13.5 13.5M1443.5 865.9l13.5 -13.5M1379.2 812.5l13.5 13.5M1379.2 826.0l13.5 -13.5M1378.0 798.0l13.5 13.5M1378.0 811.5l13.5 -13.5M1515.5 809.4l13.5 13.5M1515.5 822.9l13.5 -13.5M1495.0 827.6l13.5 13.5M1495.0 841.1l13.5 -13.5M1462.8 847.0l13.5 13.5M1462.8 860.5l13.5 -13.5M1457.7 841.0l13.5 13.5M1457.7 854.5l13.5 -13.5M1456.3 825.9l13.5 13.5M1456.3 839.4l13.5 -13.5M1464.8 815.5l13.5 13.5M1464.8 829.0l13.5 -13.5M1530.8 851.9l13.5 13.5M1530.8 865.4l13.5 -13.5M1472.8 857.5l13.5 13.5M1472.8 871.0l13.5 -13.5M1464.5 824.0l13.5 13.5M1464.5 837.5l13.5 -13.5M1520.5 840.9l13.5 13.5M1520.5 854.4l13.5 -13.5M1455.0 864.5l13.5 13.5M1455.0 878.0l13.5 -13.5M1464.8 814.9l13.5 13.5M1464.8 828.4l13.5 -13.5M1513.5 819.6l13.5 13.5M1513.5 833.1l13.5 -13.5M1472.0 802.2l13.5 13.5M1472.0 815.8l13.5 -13.5M1454.0 836.9l13.5 13.5M1454.0 850.4l13.5 -13.5M1467.3 838.1l13.5 13.5M1467.3 851.6l13.5 -13.5M1478.5 828.0l13.5 13.5M1478.5 841.5l13.5 -13.5M1529.7 830.1l13.5 13.5M1529.7 843.6l13.5 -13.5M1496.2 856.1l13.5 13.5M1496.2 869.6l13.5 -13.5M1462.2 807.8l13.5 13.5M1462.2 821.2l13.5 -13.5M1525.2 852.9l13.5 13.5M1525.2 866.4l13.5 -13.5M1468.0 810.1l13.5 13.5M1468.0 823.6l13.5 -13.5M1510.5 861.1l13.5 13.5M1510.5 874.6l13.5 -13.5M1463.3 861.9l13.5 13.5M1463.3 875.4l13.5 -13.5M1525.7 890.1l13.5 13.5M1525.7 903.6l13.5 -13.5M1476.3 871.1l13.5 13.5M1476.3 884.6l13.5 -13.5M1435.3 903.9l13.5 13.5M1435.3 917.4l13.5 -13.5M1456.8 894.0l13.5 13.5M1456.8 907.5l13.5 -13.5M1458.8 898.5l13.5 13.5M1458.8 912.0l13.5 -13.5" stroke="#000" stroke-width="4.8" fill="none"/>
<path d="M1380 825.2L1854 945" stroke="#fb0505" stroke-width="5.1" stroke-dasharray="14.33 4.34"/>
<path d="M1680.8 1025.8H1736.5" stroke="#fb0505" stroke-width="4.9" stroke-dasharray="11.8 2.83"/>
<text transform="translate(1742 1036.5) scale(1 1)" font-size="24.5" text-anchor="start" fill="#000">regression</text>
<text transform="translate(1774 848.5) scale(1 1)" font-size="24.5" text-anchor="start" fill="#000">facilitation</text>
<text transform="translate(1759.3 886) scale(1 1)" font-size="24.5" text-anchor="start" fill="#000">no facilitation</text>
<text transform="translate(1616 1121.8) scale(1 1.005)" font-size="35.55" font-weight="bold" stroke="#000" stroke-width="0.55" stroke-linejoin="round" text-anchor="middle" fill="#000">d' unisensory (max - min)</text>
<text transform="translate(1312.5 861.5) rotate(-90) scale(1 1.005)" font-size="35.55" font-weight="bold" stroke="#000" stroke-width="0.55" stroke-linejoin="round" text-anchor="middle" fill="#000">d' MSI (AV - best[A,V])</text>
</svg></body></html>
